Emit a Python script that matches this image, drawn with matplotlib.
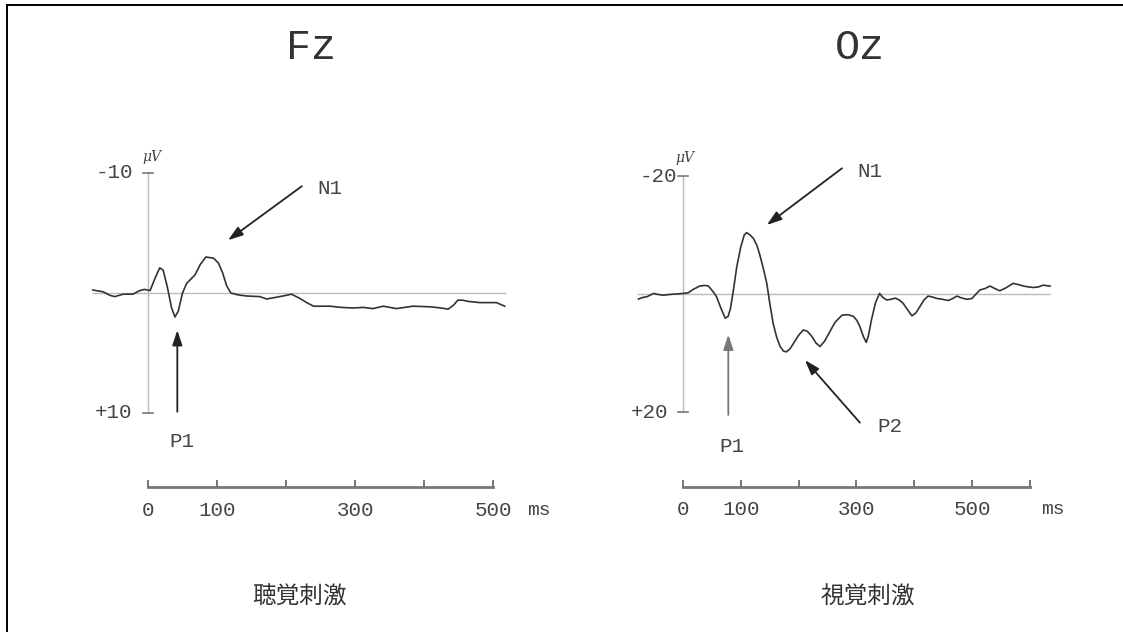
import matplotlib
matplotlib.use("Agg")
import matplotlib.pyplot as plt
from matplotlib.lines import Line2D

plt.rcParams['font.family'] = ['Liberation Mono', 'DejaVu Sans']

# --- data ---
fz_t = [-80, -65, -55, -48, -36, -22, -12, -5, 3, 10, 17, 22, 28, 34, 39, 44, 50, 56, 68, 76,
        84, 95, 102, 108, 114, 120, 130, 143, 162, 172, 191, 200, 208, 220, 230, 240, 264, 280,
        297, 312, 326, 341, 360, 384, 409, 425, 435, 443, 449, 456, 464, 481, 505, 517]
fz_v = [-0.25, -0.1, 0.2, 0.3, 0.1, 0.1, -0.2, -0.3, -0.2, -1.2, -2.1, -1.9, -0.5, 1.2, 2.0,
        1.5, 0.0, -0.8, -1.5, -2.4, -3.0, -2.9, -2.5, -1.7, -0.6, 0.0, 0.15, 0.25, 0.3, 0.5,
        0.3, 0.2, 0.1, 0.45, 0.8, 1.1, 1.1, 1.2, 1.25, 1.2, 1.3, 1.1, 1.3, 1.1, 1.15, 1.25,
        1.35, 1.0, 0.6, 0.6, 0.7, 0.8, 0.8, 1.1]

oz_t = [-77, -70, -62, -51, -42, -34, -20, -11, 0, 9, 18, 29, 38, 44, 52, 58, 66, 73, 78, 82,
        87, 93, 100, 106, 110, 116, 122, 128, 133, 139, 145, 150, 156, 162, 168, 174, 179, 185,
        191, 200, 208, 215, 223, 230, 237, 245, 254, 263, 275, 285, 295, 301, 306, 312, 317,
        321, 326, 333, 340, 346, 352, 360, 367, 374, 381, 388, 396, 403, 410, 417, 424, 431,
        439, 449, 459, 466, 474, 480, 485, 492, 500, 507, 514, 522, 531, 540, 548, 558, 571,
        580, 589, 598, 606, 615, 623, 630, 635]
oz_v = [0.85, 0.6, 0.45, -0.1, 0.1, 0.2, 0.05, 0.0, -0.1, -0.2, -0.8, -1.35, -1.45, -1.35,
        -0.4, 0.45, 2.5, 4.1, 3.8, 2.5, -0.5, -4.6, -8.0, -10.0, -10.4, -10.0, -9.4, -8.2, -6.6,
        -4.3, -1.8, 1.5, 5.0, 7.3, 8.9, 9.7, 9.8, 9.3, 8.4, 7.0, 6.1, 6.3, 7.2, 8.3, 8.9, 8.0,
        6.4, 4.8, 3.6, 3.5, 3.8, 4.5, 5.5, 7.2, 8.2, 7.0, 4.4, 1.5, -0.1, 0.6, 1.0, 0.9, 0.7,
        1.0, 1.6, 2.6, 3.7, 3.2, 2.1, 1.0, 0.35, 0.5, 0.75, 0.9, 1.1, 0.8, 0.35, 0.6, 0.75,
        0.9, 0.75, 0.0, -0.7, -0.9, -1.35, -0.9, -0.55, -1.0, -1.8, -1.6, -1.35, -1.2, -1.1,
        -1.2, -1.5, -1.4, -1.35]

W, H = 1123, 632
fig = plt.figure(figsize=(W / 100, H / 100), dpi=100)

# page frame (top and left only)
fig.add_artist(Line2D([7 / W, 1], [1 - 5 / H, 1 - 5 / H], color='black', lw=1.4))
fig.add_artist(Line2D([7 / W, 7 / W], [0, 1 - 5 / H], color='black', lw=1.4))

GRAY = '#444444'
LIGHT = '#bbbbbb'


def make_panel(px0, px1, x_zero, px_per_ms, y_zero, px_per_uv):
    ax = fig.add_axes([px0 / W, 0, (px1 - px0) / W, 1])
    ax.set_xlim((px0 - x_zero) / px_per_ms, (px1 - x_zero) / px_per_ms)
    ax.set_ylim((H - y_zero) / px_per_uv, (0 - y_zero) / px_per_uv)
    ax.axis('off')
    return ax


def draw(ax, t, v, amp, bar_len, bar_y, bar_labels, lab_y, ms_x,
         ylab_neg_x, ylab_pos_x, uv_xy, tick_w, title, title_xy, stim, stim_xy):
    # baseline and vertical axis
    ax.plot([t[0], t[-1]], [0, 0], color=LIGHT, lw=1.0)
    ax.plot([0, 0], [-amp, amp], color=LIGHT, lw=1.0)
    ax.plot([-tick_w, tick_w], [-amp, -amp], color='#777777', lw=1.2)
    ax.plot([-tick_w, tick_w], [amp, amp], color='#777777', lw=1.2)
    ax.text(ylab_neg_x, -amp, '-%d' % amp, ha='right', va='center', fontsize=15, color=GRAY)
    ax.text(ylab_pos_x, amp, '+%d' % amp, ha='right', va='center', fontsize=15, color=GRAY)
    ax.text(uv_xy[0], uv_xy[1], 'μV', ha='center', va='center', fontsize=10,
            color=GRAY, family=['DejaVu Serif'], style='italic')
    # waveform
    ax.plot(t, v, color='#333333', lw=1.2)
    # time scale bar
    ax.plot([0, bar_len], [bar_y, bar_y], color='#777777', lw=2.0)
    th = amp * 0.05
    for tk in range(0, bar_len + 1, 100):
        ax.plot([tk, tk], [bar_y, bar_y - th], color='#777777', lw=1.4)
    for tk in bar_labels:
        ax.text(tk, lab_y, str(tk), ha='center', va='center', fontsize=15, color=GRAY)
    ax.text(ms_x, lab_y, 'ms', ha='center', va='center', fontsize=14, color=GRAY)
    ax.text(title_xy[0], title_xy[1], title, ha='center', va='center', fontsize=30, color='#333333')
    ax.text(stim_xy[0], stim_xy[1], stim, ha='center', va='center', fontsize=17,
            color='#333333', family=['Noto Sans CJK JP'])


def arrow(ax, tail, tip, color='#222222'):
    ax.annotate('', xy=tip, xytext=tail,
                arrowprops=dict(arrowstyle='-|>,head_length=0.9,head_width=0.3',
                                color=color, lw=1.3, shrinkA=0, shrinkB=0))


# Fz panel
ax1 = make_panel(0, 561, 148, 0.69, 293, 12.0)
draw(ax1, fz_t, fz_v, 10, 500, 16.2, [0, 100, 300, 500], 18.1, 567,
     -22, -23, (6, -11.3), 7, 'Fz', (236, -20.4), '聴覚刺激', (220, 25.3))
arrow(ax1, (223, -8.9), (116, -4.4))
ax1.text(264, -8.75, 'N1', ha='center', va='center', fontsize=15, color=GRAY)
arrow(ax1, (42.5, 9.9), (42.5, 3.1))
ax1.text(49, 12.4, 'P1', ha='center', va='center', fontsize=15, color=GRAY)

# Oz panel
ax2 = make_panel(561, 1123, 683, 0.578, 294, 5.9)
draw(ax2, oz_t, oz_v, 20, 600, 32.7, [0, 100, 300, 500], 36.6, 640,
     -10, -26, (4, -23), 9, 'Oz', (306, -41.7), '視覚刺激', (320, 51.4))
arrow(ax2, (275, -21.3), (145, -11.7))
ax2.text(323, -20.7, 'N1', ha='center', va='center', fontsize=15, color=GRAY)
arrow(ax2, (78.4, 20.5), (78.4, 6.9), color='#777777')
ax2.text(84, 25.9, 'P1', ha='center', va='center', fontsize=15, color=GRAY)
arrow(ax2, (306, 21.8), (211, 11.2))
ax2.text(358, 22.5, 'P2', ha='center', va='center', fontsize=15, color=GRAY)

fig.savefig('out.png', dpi=100)
